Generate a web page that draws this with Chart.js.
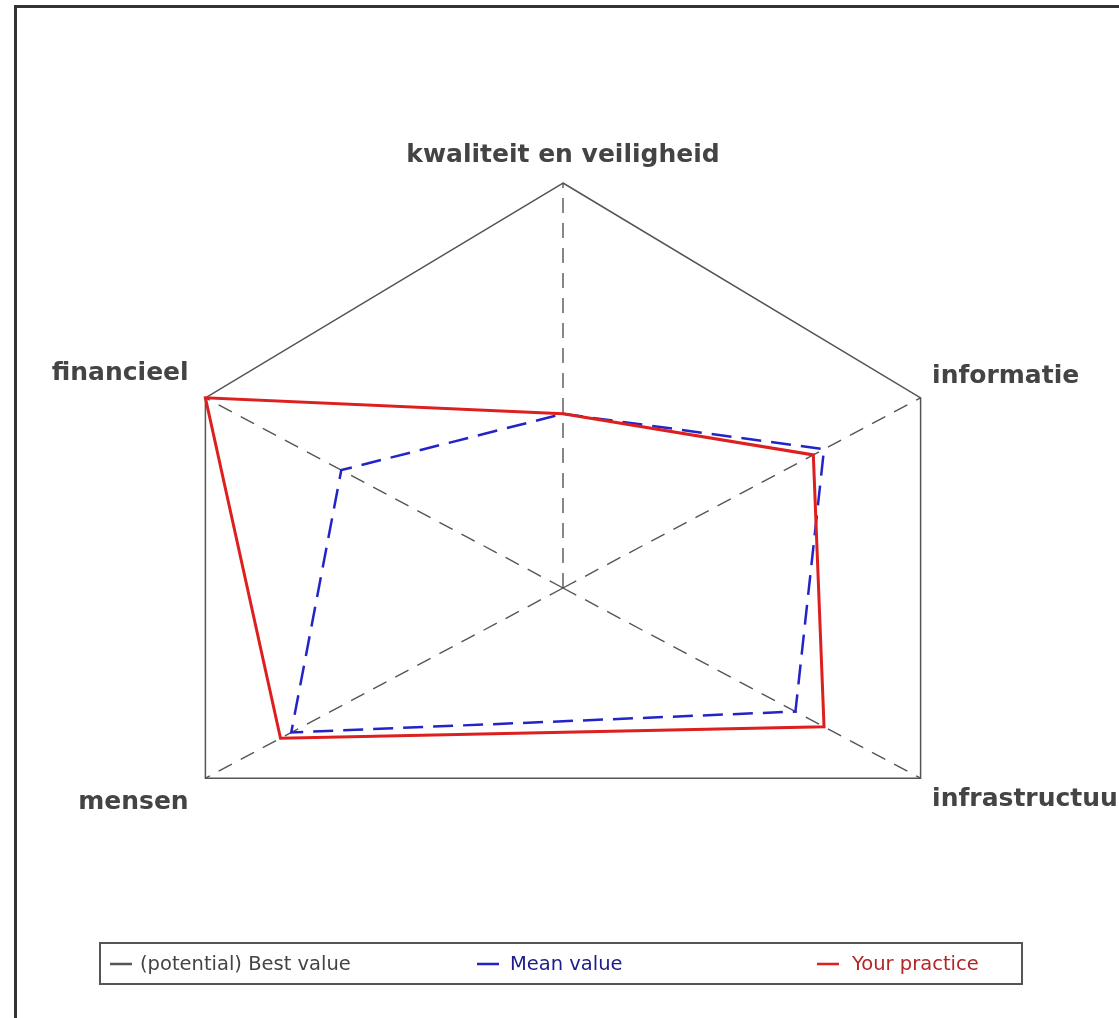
<!DOCTYPE html>
<html>
<head>
<meta charset="utf-8">
<script src="https://cdn.jsdelivr.net/npm/chart.js@4.4.1/dist/chart.umd.min.js"></script>
<style>
  html, body { margin: 0; padding: 0; background: #fff; overflow: hidden; }
  #wrap { position: absolute; left: 0; top: 0; width: 1160px; height: 1018px; }
</style>
</head>
<body>
<div id="wrap"><canvas id="radar" width="1160" height="1018"></canvas></div>
<script>
// categories clockwise from the top
const categories = ["kwaliteit en veiligheid", "informatie", "infrastructuur", "mensen", "financieel"];
const bestValue = [100, 100, 100, 100, 100];
const meanValue = [43, 73, 65, 76, 62];
const yourPractice = [43, 70, 73, 79, 100];
const seriesNames = ["(potential) Best value", "Mean value", "Your practice"];

// the original plot does not use evenly spaced spokes (degrees, clockwise from top)
const spokeAngles = [0, 62, 118, 242, 298];

const FONT = "'DejaVu Sans', Verdana, sans-serif";

// radial scale that puts each spoke at its own angle
class SpokeScale extends Chart.RadialLinearScale {
  getIndexAngle(index) {
    return spokeAngles[index] * Math.PI / 180;
  }
}
SpokeScale.id = "spokeRadial";
SpokeScale.defaults = Chart.RadialLinearScale.defaults;
Chart.register(SpokeScale);

// page frame (left + top border) drawn behind the chart
const framePlugin = {
  id: "frame",
  beforeDraw(chart) {
    const ctx = chart.ctx;
    ctx.save();
    ctx.fillStyle = "#fff";
    ctx.fillRect(0, 0, chart.width, chart.height);
    ctx.strokeStyle = "#333";
    ctx.lineWidth = 3;
    ctx.beginPath();
    ctx.moveTo(15.5, chart.height);
    ctx.lineTo(15.5, 6.5);
    ctx.lineTo(chart.width, 6.5);
    ctx.stroke();
    ctx.restore();
  }
};

// boxed legend under the chart
const boxLegend = {
  id: "boxLegend",
  afterDraw(chart) {
    const ctx = chart.ctx;
    const markX = [110, 477, 817];
    const textX = [140, 510, 852];
    const textColors = ["#444", "#1c1c8a", "#b52525"];
    ctx.save();
    ctx.strokeStyle = "#555";
    ctx.lineWidth = 2;
    ctx.strokeRect(100, 943, 922, 41);
    ctx.font = "19.5px " + FONT;
    ctx.textBaseline = "middle";
    chart.data.datasets.forEach((ds, i) => {
      ctx.strokeStyle = ds.borderColor;
      ctx.lineWidth = 2.5;
      ctx.setLineDash([]);
      ctx.beginPath();
      ctx.moveTo(markX[i], 964);
      ctx.lineTo(markX[i] + 22, 964);
      ctx.stroke();
      ctx.fillStyle = textColors[i];
      ctx.fillText(ds.label, textX[i], 965);
    });
    ctx.restore();
  }
};

new Chart(document.getElementById("radar"), {
  type: "radar",
  data: {
    labels: categories,
    datasets: [
      { label: seriesNames[0], data: bestValue, borderColor: "#555", borderWidth: 1.5, order: 2 },
      { label: seriesNames[1], data: meanValue, borderColor: "#2323c8", borderWidth: 2.5, borderDash: [20, 10], order: 1 },
      { label: seriesNames[2], data: yourPractice, borderColor: "#dd1f1f", borderWidth: 3, order: 0 }
    ]
  },
  options: {
    responsive: false,
    devicePixelRatio: 1,
    animation: false,
    layout: { padding: { top: 119, bottom: 3, left: 1, right: 3 } },
    elements: {
      point: { radius: 0, hoverRadius: 0 },
      line: { tension: 0, fill: false }
    },
    plugins: { legend: { display: false }, tooltip: { enabled: false } },
    scales: {
      r: {
        type: "spokeRadial",
        min: 0,
        max: 100,
        grid: { display: false },
        ticks: { display: false },
        angleLines: { color: "#555", lineWidth: 1.4, borderDash: [15, 10] },
        pointLabels: {
          color: "#444",
          padding: ctx => ctx.index >= 3 ? 19 : 13,
          font: { family: FONT, weight: "bold", size: 25 }
        }
      }
    }
  },
  plugins: [framePlugin, boxLegend]
});
</script>
</body>
</html>
